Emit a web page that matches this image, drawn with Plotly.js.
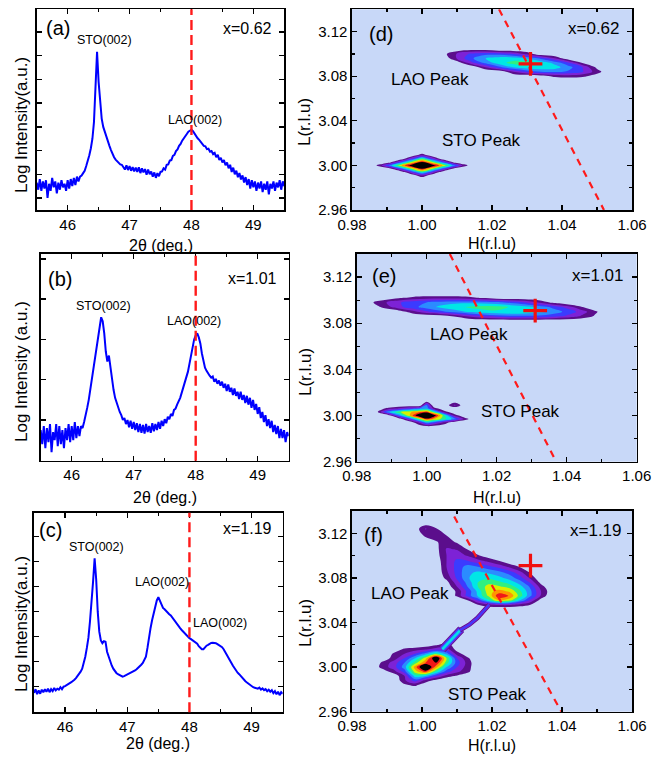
<!DOCTYPE html>
<html><head><meta charset="utf-8">
<script src="https://cdn.plot.ly/plotly-3.0.1.min.js"></script>
<style>html,body{margin:0;padding:0;background:#fff}#chart{width:652px;height:757px}</style>
</head><body><div id="chart"></div>
<script>
// ================= XRD theta-2theta scans (log intensity, arbitrary units) =================
const twoThetaStart = 45.5;
const twoThetaStep = 0.025;
const logI_a = [
 1.65,1.35,1.8,1.3, 1.7,1.4,1.75,1.0, 1.6,1.3,1.85,1.45, 1.7,1.2,1.65,1.35, 1.75,1.45,1.6,1.3,
 1.75,1.4,1.8,1.5, 1.85,1.55,1.9,1.7, 1.9,1.95,2.05,2.15, 2.35,2.55,2.8,3.1, 3.5,4.2,5.4,7.17,
 5.9,4.9,4.35,4.0, 3.78,3.58,3.4,3.2, 3.02,2.85,2.72,2.62, 2.55,2.5,2.42,2.4, 2.32,2.2,2.38,2.18,
 2.35,2.15,2.3,2.12, 2.28,2.1,2.3,2.05, 2.25,2.08,2.22,1.98, 2.2,2.0,2.12,1.9, 2.08,1.85,2.05,1.92,
 2.1,2.12,2.25,2.2, 2.4,2.42,2.58,2.6, 2.78,2.82,2.98,3.05, 3.2,3.28,3.42,3.5, 3.63,3.7,3.8,3.85,
 3.88,3.82,3.7,3.62, 3.52,3.45,3.35,3.3, 3.2,3.18,3.06,3.08, 2.95,2.98,2.85,2.9, 2.72,2.82,2.6,2.7,
 2.5,2.6,2.38,2.5, 2.25,2.4,2.1,2.28, 2.0,2.15,1.88,2.05, 1.78,1.95,1.65,1.88, 1.55,1.8,1.4,1.75,
 1.45,1.7,1.3,1.65, 1.4,1.7,1.25,1.6, 1.35,1.7,1.15,1.6, 1.4,1.7,1.3,1.65, 1.45,1.75,1.35,1.7,
 1.5];
const logI_b = [
 0.75,0.4,0.85,0.3, 0.8,0.45,0.9,0.2, 0.7,0.5,0.9,0.35, 0.85,0.4,0.75,0.3, 0.8,0.5,0.9,0.45,
 0.85,0.5,0.95,0.55, 0.85,0.6,0.85,0.8, 0.95,1.1,1.3,1.5, 1.75,1.95,2.2,2.45, 2.7,3.0,3.3,3.55,
 3.45,3.15,2.7,2.45, 2.6,2.3,1.95,1.75, 1.55,1.42,1.3,1.2, 1.12,1.0,1.05,0.9, 1.0,0.82,0.98,0.78,
 0.95,0.75,0.92,0.7, 0.9,0.68,0.88,0.66, 0.9,0.7,0.85,0.68, 0.92,0.72,0.9,0.75, 0.95,0.78,0.98,0.85,
 1.02,0.92,1.08,1.02, 1.15,1.1,1.25,1.28, 1.38,1.45,1.55,1.68, 1.8,1.92,2.05,2.2, 2.4,2.6,2.85,3.0,
 3.1,3.15,3.05,2.9, 2.65,2.45,2.3,2.22, 2.15,2.1,2.05,2.08, 1.95,2.02,1.9,1.98, 1.85,1.95,1.8,1.9,
 1.72,1.88,1.7,1.8, 1.62,1.78,1.6,1.7, 1.52,1.7,1.5,1.62, 1.42,1.6,1.38,1.55, 1.3,1.5,1.25,1.4,
 1.15,1.32,1.05,1.2, 0.95,1.12,0.85,1.02, 0.8,0.98,0.7,0.88, 0.65,0.85,0.55,0.78, 0.55,0.75,0.45,0.7,
 0.6];
const logI_c = [
 0.75,0.9,0.7,0.85, 0.72,0.88,0.78,0.9, 0.8,0.92,0.78,0.9, 0.82,0.95,0.85,0.92, 0.88,0.98,0.9,1.0,
 1.02,1.07,1.1,1.14, 1.18,1.22,1.28,1.34, 1.42,1.5,1.6,1.72, 1.95,2.2,2.55,2.95, 3.6,4.3,5.2,6.14,
 5.3,4.0,3.2,2.85, 2.74,2.82,2.8,2.4, 2.2,2.0,1.85,1.72, 1.62,1.55,1.5,1.46, 1.42,1.4,1.42,1.45,
 1.47,1.5,1.55,1.58, 1.6,1.65,1.7,1.75, 1.8,1.88,1.95,2.08, 2.2,2.55,3.0,3.35, 3.67,3.95,4.27,4.45,
 4.58,4.45,4.27,4.15, 4.1,4.02,3.96,3.9, 3.85,3.76,3.68,3.58, 3.47,3.4,3.34,3.27, 3.2,3.13,3.06,3.0,
 2.94,2.9,2.85,2.8, 2.76,2.72,2.62,2.55, 2.5,2.5,2.58,2.64, 2.67,2.72,2.75,2.76, 2.76,2.74,2.7,2.66,
 2.62,2.58,2.5,2.4, 2.28,2.17,2.07,1.95, 1.84,1.74,1.64,1.56, 1.5,1.42,1.35,1.28, 1.22,1.17,1.12,1.07,
 1.03,0.98,0.96,0.93, 0.92,0.96,0.88,0.93, 0.86,0.9,0.82,0.88, 0.8,0.86,0.74,0.82, 0.7,0.8,0.66,0.78,
 0.72];
const refTwoTheta = 48;

// ================= Reciprocal space maps =================
// (d) x = 0.62
const dStoH = [0.985,0.988,0.991,0.994,0.997,1.000,1.003,1.006,1.009,1.012,1.015];
const dStoL = [2.985,2.988,2.991,2.994,2.997,3.000,3.003,3.006,3.009,3.012,3.015];
const dStoZ = [
 [0,0,0,0,0,0,0,0,0,0,0],
 [0,0,0,0,0,0,0,0,0,0,0],
 [0,0,0,0,0,2.0,0,0,0,0,0],
 [0,0,0,0,2.95,6.1,2.95,0,0,0,0],
 [0,0,0.6,3.7,6.9,10.0,6.9,3.7,0.6,0,0],
 [0,1.5,4.6,7.8,10.9,14,10.9,7.8,4.6,1.5,0],
 [0,0,0.6,3.7,6.9,10.0,6.9,3.7,0.6,0,0],
 [0,0,0,0,2.95,6.1,2.95,0,0,0,0],
 [0,0,0,0,0,2.0,0,0,0,0,0],
 [0,0,0,0,0,0,0,0,0,0,0],
 [0,0,0,0,0,0,0,0,0,0,0]];
const dLaoH = [1.002,1.006,1.010,1.014,1.018,1.022,1.026,1.030,1.034,1.038,1.042,1.046,1.050,1.054];
const dLaoL = [3.076,3.080,3.084,3.088,3.092,3.096,3.100,3.104,3.108];
const dLaoZ = [
 [0,0,0,0,0,0,0,0,0,0,0,0,0,0],
 [0,0,0,0,0,0,0,0,0.48,1.26,1.47,1.21,0.48,0],
 [0,0,0,0,0,0.05,1.95,3.32,4.0,4.24,3.83,3.05,1.46,0],
 [0,0,0,0,1.84,3.7,5.03,5.7,5.85,5.43,4.37,2.94,0.71,0],
 [0,0,0.29,2.65,4.29,5.57,6.38,6.51,5.76,4.65,3.09,0.81,0,0],
 [0,0,2.12,3.78,4.97,5.53,5.5,4.94,3.73,2.0,0,0,0,0],
 [0,0.57,2.12,3.2,3.68,3.59,3.0,1.74,0.05,0,0,0,0,0],
 [0,0,0.29,0.67,0.57,0,0,0,0,0,0,0,0,0],
 [0,0,0,0,0,0,0,0,0,0,0,0,0,0]];
const dLineH = [1.022, 1.052], dLineL = [3.14, 2.96];

// (e) x = 1.01
const eStoH = [0.980,0.983,0.986,0.989,0.992,0.995,0.998,1.000,1.002,1.005,1.008,1.011,1.014];
const eStoL = [2.986,2.990,2.994,2.997,3.000,3.003,3.006,3.009,3.013];
const eStoZ = [
 [0,0,0,0,0,0,0,0,0,0,0,0,0],
 [0,0,0,0,0,0,0,0,0,0,0,0,0],
 [0,0,0,0,0,0,2.3,4.82,3.6,1.69,0,0,0],
 [0,0,0,0,0,3.17,6.95,9.41,8.15,6.29,4.42,1.47,0],
 [0,0,0,0.13,4.03,7.77,11.5,14,10.9,6.29,1.65,0,0],
 [0,0,0.96,4.72,6.78,7.77,8.8,9.41,6.3,1.69,0,0,0],
 [0,0,0.35,1.35,2.18,3.17,4.17,4.82,1.73,0,0,0,0],
 [0,0,0,0,0,0,0,4.0,0,0,2.2,0,0],
 [0,0,0,0,0,0,0,0,0,0,0,0,0]];
const eLaoH = [0.980,0.984,0.988,0.992,0.996,1.000,1.004,1.008,1.012,1.016,1.020,1.024,1.028,1.032,1.036,1.040,1.044,1.048,1.052];
const eLaoL = [3.078,3.082,3.086,3.090,3.094,3.098,3.102,3.106];
const eLaoZ = [
 [0,0,0,0,0,0,0,0,0,0,0,0,0,0,0,0,0,0,0],
 [0,0,0,0,0,0,0,0,0,0,0,0,0.19,0.05,0,0,0,0,0],
 [0,0,0,0,0,0,0.14,1.1,2.06,2.88,3.36,3.73,3.76,3.68,3.36,2.76,1.89,0.86,0],
 [0,0,0,0.33,1.58,2.86,3.71,4.49,5.18,5.61,5.86,5.92,5.73,5.32,4.62,3.71,2.65,1.25,0],
 [0,0.1,1.38,2.69,3.65,4.51,5.24,5.74,6.12,6.4,6.35,5.92,5.46,4.71,3.73,2.65,1.16,0,0],
 [0,0.79,1.87,2.88,3.55,4.02,4.48,4.73,4.73,4.59,4.29,3.73,3.05,1.89,0.76,0,0,0,0],
 [0,0,0.24,0.8,1.26,1.47,1.58,1.53,1.28,0.8,0.33,0,0,0,0,0,0,0,0],
 [0,0,0,0,0,0,0,0,0,0,0,0,0,0,0,0,0,0,0]];
const eLineH = [1.0066, 1.037], eLineL = [3.14, 2.96];

// (f) x = 1.19
const fLaoH = [0.998,1.001,1.004,1.007,1.010,1.013,1.016,1.019,1.022,1.025,1.028,1.031,1.034,1.037];
const fLaoL = [3.052,3.056,3.060,3.064,3.068,3.072,3.076,3.080,3.085,3.090,3.095,3.100,3.106,3.112,3.118,3.124,3.130];
const fLaoZ = [
 [0,0,0,0,0,0,0,0,0,0,0,0,0,0],
 [0,0,0,0,0,0,1.0,1.8,2.2,2.2,1.6,1.0,0,0],
 [0,0,0,0,0,1.0,3.2,5.8,8.2,7.5,5.0,2.8,0.5,0],
 [0,0,0,0,1.2,3.4,5.2,7.2,9.8,8.9,6.5,4.2,1.9,0],
 [0,0,0,0,1.2,3.3,5.3,7.6,8.4,7.8,6.2,4.2,2.0,0.3],
 [0,0,0,0.2,2.0,4.0,6.0,7.5,7.2,6.6,5.4,3.8,1.5,0],
 [0,0,0,0.6,2.6,4.4,6.0,6.6,6.2,5.6,4.5,2.8,0.6,0],
 [0,0,0,1.3,3.2,4.8,5.9,5.8,5.3,4.6,3.4,1.8,0,0],
 [0,0,0,1.8,3.4,4.7,5.2,4.8,4.3,3.5,2.3,0.8,0,0],
 [0,0,0,2.0,3.4,4.4,4.0,3.3,2.6,1.8,0.9,0,0,0],
 [0,0,0.2,2.0,3.3,3.1,2.4,1.8,1.1,0.2,0,0,0,0],
 [0,0,0.5,2.0,2.5,1.9,1.1,0.4,0,0,0,0,0,0],
 [0,0,0.6,2.1,1.9,0.9,0.2,0,0,0,0,0,0,0],
 [0,0.3,0.9,1.4,0.9,0,0,0,0,0,0,0,0,0],
 [0.2,1.2,1.4,1.0,0.2,0,0,0,0,0,0,0,0,0],
 [0.3,2.1,1.1,0.3,0,0,0,0,0,0,0,0,0,0],
 [0,0,0,0,0,0,0,0,0,0,0,0,0,0]];
const fStoH = [0.986,0.989,0.992,0.995,0.998,1.001,1.004,1.007,1.010,1.013,1.016];
const fStoL = [2.980,2.984,2.988,2.992,2.996,3.000,3.004,3.008,3.012,3.016,3.020,3.024];
const fStoZ = [
 [0,0,0,0,0,0,0,0,0,0,0],
 [0,0,0,0.8,1.3,0.2,0,0,0,0,0],
 [0,0,0,1.8,3.5,1.6,0.6,0,0,0,0],
 [0,0,0.2,2.0,5.5,5.0,3.0,1.5,0.8,0.2,0],
 [0,0.5,1.6,3.5,7.5,9.5,6.0,3.5,2.3,1.3,0],
 [0.3,1.5,2.6,4.5,8.5,12,8.5,5.0,3.0,1.5,0],
 [0.2,1.3,2.5,4.0,6.5,9.0,10.0,6.5,3.5,1.6,0],
 [0,0.3,1.5,3.0,5.0,7.5,11.5,7.0,3.0,1.2,0],
 [0,0,1.2,2.0,3.0,4.5,6.5,4.5,1.5,0.3,0],
 [0,0,0.3,1.2,1.5,1.8,2.5,2.5,0.5,0,0],
 [0,0,0,0,0,0.3,0.8,1.5,0.3,0,0],
 [0,0,0,0,0,0,0,0,0,0,0]];
const fStalkLowH = [1.0058, 1.0085, 1.0112], fStalkLowL = [3.016, 3.025, 3.034];
const fStalkUpH = [1.0108, 1.0135, 1.0158, 1.0192], fStalkUpL = [3.033, 3.038, 3.044, 3.056];
const fLineH = [1.0092, 1.0398], fLineL = [3.135, 2.96];

// strained-LAO reference position
const crossH = [1.031], crossL = [3.091];

// ================= styling =================
const FONT = 'Liberation Sans, Arial, Helvetica, sans-serif';
const BLUE = '#0000ff', RED = '#ff1a1a', MAPBG = '#c8d8f8';
const palette = ['rgba(0,0,0,0)','#5b0e8c','#7d22d6','#3b3bff','#2b8cff','#00e6e6','#30f080','#d8f000','#ff9600','#f01818','#000000'];
const mapScale = [];
palette.forEach((c, k) => {
  const lo = Math.max(0, (k - 0.5) / 10), hi = Math.min(1, (k + 0.5) / 10);
  mapScale.push([lo, c]); mapScale.push([hi, c]);
});

const twoTheta = logI_a.map((_, i) => +(twoThetaStart + i * twoThetaStep).toFixed(4));

function xrd(y, xa, ya) {
  return {type:'scatter', mode:'lines', x: twoTheta, y: y, xaxis: xa, yaxis: ya,
          line:{color: BLUE, width: 2}, hoverinfo:'skip', showlegend:false};
}
function map(H, L, Z, xa, ya) {
  return {type:'contour', x: H, y: L, z: Z, xaxis: xa, yaxis: ya,
          autocontour:false, contours:{start:1, end:10, size:1, coloring:'fills', showlines:false},
          line:{width:0, smoothing:1}, colorscale: mapScale, zmin:0, zmax:11,
          showscale:false, hoverinfo:'skip'};
}
function dashLine(H, L, xa, ya) {
  return {type:'scatter', mode:'lines', x:H, y:L, xaxis:xa, yaxis:ya,
          line:{color: RED, width:2.2, dash:'7px,6px'}, hoverinfo:'skip', showlegend:false};
}
function cross(xa, ya) {
  return {type:'scatter', mode:'markers', x: crossH, y: crossL, xaxis:xa, yaxis:ya,
          marker:{symbol:'cross-thin', size:17, line:{color:'#f01010', width:3.2}},
          hoverinfo:'skip', showlegend:false};
}
function stalk(H, L, color, w) {
  return {type:'scatter', mode:'lines', x:H, y:L, xaxis:'x6', yaxis:'y6',
          line:{color: color, width: w}, hoverinfo:'skip', showlegend:false};
}

const traces = [
  xrd(logI_a, 'x', 'y'), xrd(logI_b, 'x2', 'y2'), xrd(logI_c, 'x3', 'y3'),
  map(dStoH, dStoL, dStoZ, 'x4', 'y4'), map(dLaoH, dLaoL, dLaoZ, 'x4', 'y4'),
  map(eStoH, eStoL, eStoZ, 'x5', 'y5'), map(eLaoH, eLaoL, eLaoZ, 'x5', 'y5'),
  map(fStoH, fStoL, fStoZ, 'x6', 'y6'), map(fLaoH, fLaoL, fLaoZ, 'x6', 'y6'),
  stalk(fStalkLowH, fStalkLowL, palette[1], 8), stalk(fStalkLowH, fStalkLowL, palette[2], 6.5),
  stalk(fStalkLowH, fStalkLowL, palette[3], 5), stalk(fStalkLowH, fStalkLowL, palette[4], 3.5),
  stalk(fStalkLowH, fStalkLowL, palette[5], 2),
  stalk(fStalkUpH, fStalkUpL, palette[1], 4.5), stalk(fStalkUpH, fStalkUpL, palette[2], 3),
  stalk(fStalkUpH, fStalkUpL, palette[3], 1.6),
  dashLine(dLineH, dLineL, 'x4', 'y4'), dashLine(eLineH, eLineL, 'x5', 'y5'), dashLine(fLineH, fLineL, 'x6', 'y6'),
  cross('x4', 'y4'), cross('x5', 'y5'), cross('x6', 'y6')
];

const W = 652, Hh = 757;
const dx = (a, b) => [a / W, b / W];
const dy = (top, bottom) => [1 - bottom / Hh, 1 - top / Hh];
const common = {showline:true, mirror:'ticks', linecolor:'#000', linewidth:1.6, ticks:'inside',
  tickwidth:1.4, ticklen:5, tickcolor:'#000', showgrid:false, zeroline:false,
  tickfont:{family:FONT, size:15, color:'#000'}};
function leftX(dom, anchor) {
  return Object.assign({}, common, {domain: dom, anchor: anchor, range:[45.5, 49.5], tick0:46, dtick:1,
    minor:{dtick:0.5, ticks:'inside', ticklen:3, tickwidth:1.2, tickcolor:'#000'}});
}
function leftY(dom, anchor, rng) {
  return Object.assign({}, common, {domain: dom, anchor: anchor, range: rng, tick0:0, dtick:1, showticklabels:false});
}
function rightX(dom, anchor) {
  return Object.assign({}, common, {domain: dom, anchor: anchor, range:[0.97999, 1.06001], tick0:0.98, dtick:0.02,
    tickformat:'.2f', minor:{dtick:0.01, ticks:'inside', ticklen:3, tickwidth:1.2, tickcolor:'#000'}});
}
function rightY(dom, anchor) {
  return Object.assign({}, common, {domain: dom, anchor: anchor, range:[2.95999, 3.14], tick0:2.96, dtick:0.04,
    tickformat:'.2f', minor:{dtick:0.02, ticks:'inside', ticklen:3, tickwidth:1.2, tickcolor:'#000'}});
}

function txt(t, x, y, xr, yr, size) {
  return {text:t, x:x, y:y, xref:xr, yref:yr, showarrow:false, xanchor:'center', yanchor:'middle',
          font:{family:FONT, size:size, color:'#000'}};
}
function ptxt(t, px, py, size, angle) {
  const a = txt(t, px / W, 1 - py / Hh, 'paper', 'paper', size);
  if (angle) a.textangle = angle;
  return a;
}

const annotations = [
  txt('(a)', 45.84, 8.19, 'x', 'y', 20), txt('STO(002)', 46.59, 7.67, 'x', 'y', 12.5),
  txt('LAO(002)', 48.06, 4.29, 'x', 'y', 12.5), txt('x=0.62', 48.90, 8.17, 'x', 'y', 16),
  txt('(b)', 45.81, 4.50, 'x2', 'y2', 20), txt('STO(002)', 46.52, 3.83, 'x2', 'y2', 12.5),
  txt('LAO(002)', 47.97, 3.46, 'x2', 'y2', 12.5), txt('x=1.01', 48.91, 4.50, 'x2', 'y2', 16),
  txt('(c)', 45.76, 7.27, 'x3', 'y3', 20), txt('STO(002)', 46.50, 6.59, 'x3', 'y3', 12.5),
  txt('LAO(002)', 47.56, 5.19, 'x3', 'y3', 12.5), txt('LAO(002)', 48.49, 3.55, 'x3', 'y3', 12.5),
  txt('x=1.19', 48.94, 7.31, 'x3', 'y3', 16),
  txt('(d)', 0.9883, 3.1176, 'x4', 'y4', 20), txt('x=0.62', 1.0491, 3.123, 'x4', 'y4', 17),
  txt('LAO Peak', 1.0023, 3.0773, 'x4', 'y4', 17), txt('STO Peak', 1.0169, 3.0227, 'x4', 'y4', 17),
  txt('(e)', 0.9877, 3.121, 'x5', 'y5', 20), txt('x=1.01', 1.0489, 3.121, 'x5', 'y5', 17),
  txt('LAO Peak', 1.012, 3.0699, 'x5', 'y5', 17), txt('STO Peak', 1.0269, 3.0033, 'x5', 'y5', 17),
  txt('(f)', 0.986, 3.1185, 'x6', 'y6', 20), txt('x=1.19', 1.0497, 3.1221, 'x6', 'y6', 17),
  txt('LAO Peak', 0.9966, 3.0657, 'x6', 'y6', 17), txt('STO Peak', 1.0186, 2.9752, 'x6', 'y6', 17),
  // axis titles
  ptxt('2θ (deg.)', 160.5, 245, 16), ptxt('2θ (deg.)', 164.7, 497, 16), ptxt('2θ (deg.)', 158.4, 743, 16),
  ptxt('H(r.l.u)', 492, 243, 16), ptxt('H(r.l.u)', 496.7, 497, 16), ptxt('H(r.l.u)', 492, 745.5, 16),
  ptxt('Log Intensity(a.u.)', 21, 125, 17, -90), ptxt('Log Intensity (a.u.)', 21, 372, 17, -90),
  ptxt('Log Intensity(a.u.)', 21, 624, 17, -90),
  ptxt('L(r.l.u)', 305, 122, 17, -90), ptxt('L(r.l.u)', 305, 372, 17, -90), ptxt('L(r.l.u)', 305, 623, 17, -90)
];

const shapes = [];
[['x','y'],['x2','y2'],['x3','y3']].forEach(([xa, ya]) => shapes.push({type:'line', xref: xa, yref: ya + ' domain',
  x0: refTwoTheta, x1: refTwoTheta, y0: 0, y1: 1, line:{color: RED, width:2.4, dash:'10px,5px'}, layer:'above'}));
[['x4','y4'],['x5','y5'],['x6','y6']].forEach(([xa, ya]) => shapes.push({type:'rect', xref: xa + ' domain', yref: ya + ' domain',
  x0:0, x1:1, y0:0, y1:1, fillcolor: MAPBG, line:{width:0}, layer:'below'}));

const layout = {
  width: W, height: Hh, margin:{l:0, r:0, t:0, b:0}, paper_bgcolor:'#fff', plot_bgcolor:'#fff',
  font:{family: FONT, color:'#000'}, showlegend:false,
  xaxis: leftX(dx(36.7, 284.3), 'y'),   yaxis: leftY(dy(9.3, 210), 'x', [0.494, 8.96]),
  xaxis2: leftX(dx(40.7, 288.7), 'y2'), yaxis2: leftY(dy(254, 460.7), 'x2', [-0.01, 5.12]),
  xaxis3: leftX(dx(34, 282.7), 'y3'),   yaxis3: leftY(dy(512.7, 712.3), 'x3', [-0.024, 7.96]),
  xaxis4: rightX(dx(352, 632), 'y4'),   yaxis4: rightY(dy(9.3, 210), 'x4'),
  xaxis5: rightX(dx(356.7, 636.7), 'y5'), yaxis5: rightY(dy(254, 461.7), 'x5'),
  xaxis6: rightX(dx(352, 632), 'y6'),   yaxis6: rightY(dy(511, 711.7), 'x6'),
  annotations: annotations, shapes: shapes
};

Plotly.newPlot('chart', traces, layout, {displayModeBar:false, staticPlot:true});
</script>
</body></html>
